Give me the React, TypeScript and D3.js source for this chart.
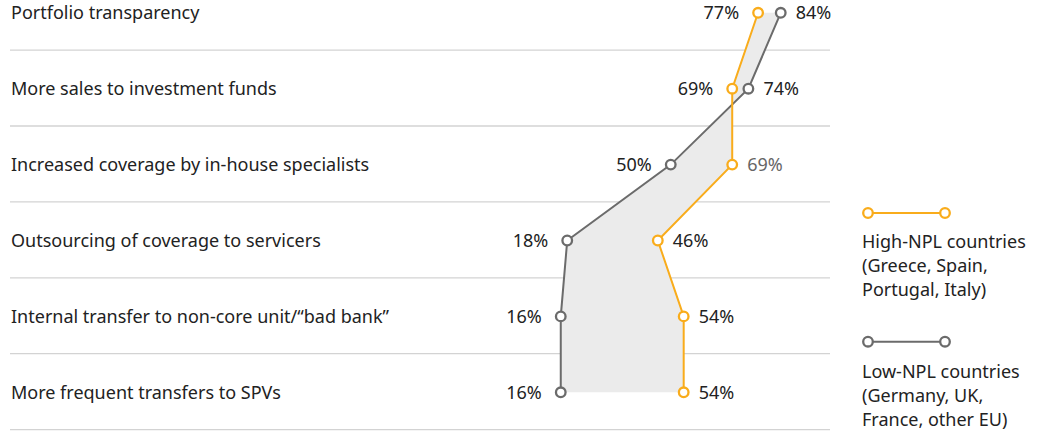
import React from "react";
import * as d3 from "d3";

const categories = [
  "Portfolio transparency",
  "More sales to investment funds",
  "Increased coverage by in-house specialists",
  "Outsourcing of coverage to servicers",
  "Internal transfer to non-core unit/\u201cbad bank\u201d",
  "More frequent transfers to SPVs",
];
const highNPL = [77, 69, 69, 46, 54, 54];
const lowNPL = [84, 74, 50, 18, 16, 16];
const highLegend = ["High-NPL countries", "(Greece, Spain,", "Portugal, Italy)"];
const lowLegend = ["Low-NPL countries", "(Germany, UK,", "France, other EU)"];

const W = 1043;
const H = 436;
const ORANGE = "#f9ac1b";
const GREY = "#6b6b6b";
const FONT = "'Noto Sans', sans-serif";
const FS = 18;

export default function App() {
  const x = d3.scaleLinear().domain([0, 100]).range([509, 832.5]);
  const y = d3.scalePoint<string>().domain(categories).range([12.8, 392.3]);

  const rows = categories.map((c, i) => ({ c, hi: highNPL[i], lo: lowNPL[i], y: y(c)! }));

  const area = d3
    .area<(typeof rows)[0]>()
    .x0((d) => x(d.hi))
    .x1((d) => x(d.lo))
    .y((d) => d.y);
  const lineHi = d3.line<(typeof rows)[0]>().x((d) => x(d.hi)).y((d) => d.y);
  const lineLo = d3.line<(typeof rows)[0]>().x((d) => x(d.lo)).y((d) => d.y);

  const labelColor = "#222";

  return (
    <svg
      width={W}
      height={H}
      style={{ position: "absolute", left: 0, top: 0, display: "block" }}
      fontFamily={FONT}
    >
      {rows.map((r, i) => (
        <line
          key={"sep" + i}
          x1={10}
          x2={830}
          y1={r.y + 37.3}
          y2={r.y + 37.3}
          stroke="#d3d3d3"
          strokeWidth={1.3}
        />
      ))}
      {rows.map((r, i) => (
        <text key={"cat" + i} x={11} y={r.y} dy="0.35em" fontSize={FS} fill={labelColor}>
          {r.c}
        </text>
      ))}
      <path d={area(rows)!} fill="#ebebeb" />
      <path d={lineLo(rows)!} fill="none" stroke={GREY} strokeWidth={2} />
      <path d={lineHi(rows)!} fill="none" stroke={ORANGE} strokeWidth={2} />
      {rows.map((r, i) => (
        <g key={"pts" + i}>
          <circle cx={x(r.lo)} cy={r.y} r={4.8} fill="#fff" stroke={GREY} strokeWidth={2.3} />
          <circle cx={x(r.hi)} cy={r.y} r={4.8} fill="#fff" stroke={ORANGE} strokeWidth={2.3} />
        </g>
      ))}
      {rows.map((r, i) => {
        const left = Math.min(r.hi, r.lo);
        const right = Math.max(r.hi, r.lo);
        const rightGrey = i === 2;
        return (
          <g key={"lab" + i}>
            <text x={x(left) - 19} y={r.y} dy="0.35em" textAnchor="end" fontSize={FS} fill={labelColor}>
              {left}%
            </text>
            <text
              x={x(right) + 15}
              y={r.y}
              dy="0.35em"
              textAnchor="start"
              fontSize={FS}
              fill={rightGrey ? "#666" : labelColor}
            >
              {right}%
            </text>
          </g>
        );
      })}
      <g>
        <line x1={868} x2={945} y1={213} y2={213} stroke={ORANGE} strokeWidth={2} />
        <circle cx={868} cy={213} r={4.8} fill="#fff" stroke={ORANGE} strokeWidth={2.3} />
        <circle cx={945} cy={213} r={4.8} fill="#fff" stroke={ORANGE} strokeWidth={2.3} />
        {highLegend.map((t, i) => (
          <text key={"hl" + i} x={862} y={242 + i * 24} dy="0.35em" fontSize={FS} fill={labelColor}>
            {t}
          </text>
        ))}
        <line x1={868} x2={945} y1={341.7} y2={341.7} stroke={GREY} strokeWidth={2} />
        <circle cx={868} cy={341.7} r={4.8} fill="#fff" stroke={GREY} strokeWidth={2.3} />
        <circle cx={945} cy={341.7} r={4.8} fill="#fff" stroke={GREY} strokeWidth={2.3} />
        {lowLegend.map((t, i) => (
          <text key={"ll" + i} x={862} y={371.7 + i * 24} dy="0.35em" fontSize={FS} fill={labelColor}>
            {t}
          </text>
        ))}
      </g>
    </svg>
  );
}
